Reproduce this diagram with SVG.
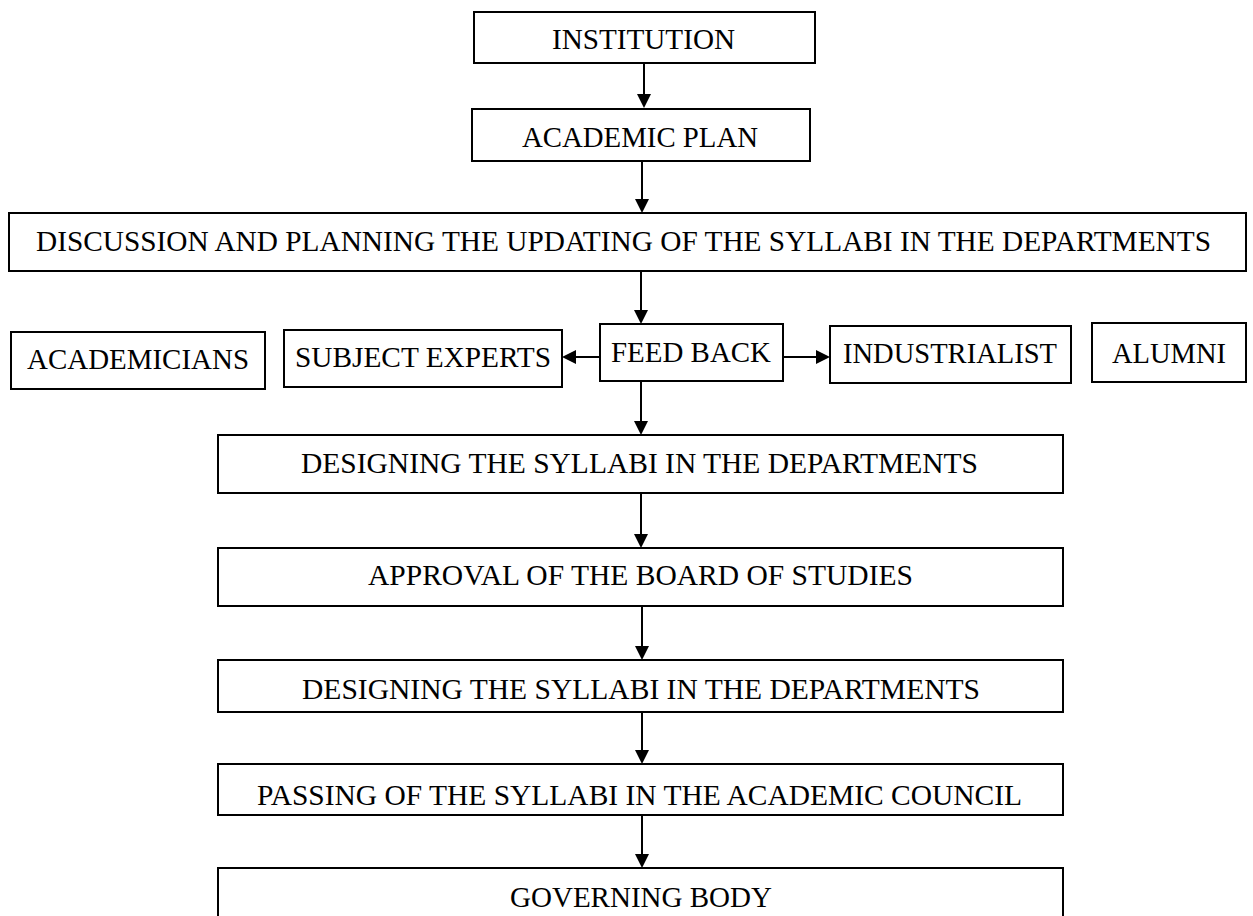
<svg xmlns="http://www.w3.org/2000/svg" width="1253" height="916" viewBox="0 0 1253 916">
<style>
.box{fill:#fff;stroke:#000;stroke-width:2}
.t{font-family:"Liberation Serif","Times New Roman",serif;font-size:29px;fill:#000}
.c{stroke:#000;stroke-width:2;fill:none;marker-end:url(#ah)}
</style>
<defs>
<marker id="ah" markerUnits="userSpaceOnUse" markerWidth="16" markerHeight="16" refX="10" refY="7" orient="auto">
<path d="M0,0 L14,7 L0,14 z" fill="#000"/>
</marker>
</defs>
<rect width="1253" height="916" fill="#fff"/>
<g id="n-institution"><rect class="box" x="474" y="12" width="341" height="51"/><text class="t" x="552" y="49" textLength="183" lengthAdjust="spacingAndGlyphs">INSTITUTION</text></g>
<g id="n-academic-plan"><rect class="box" x="472" y="109" width="338" height="52"/><text class="t" x="522" y="147" textLength="236" lengthAdjust="spacingAndGlyphs">ACADEMIC PLAN</text></g>
<g id="n-discussion"><rect class="box" x="9" y="213" width="1237" height="58"/><text class="t" x="36" y="251" textLength="1175" lengthAdjust="spacingAndGlyphs">DISCUSSION AND PLANNING THE UPDATING OF THE SYLLABI IN THE DEPARTMENTS</text></g>
<g id="n-academicians"><rect class="box" x="11" y="332" width="254" height="57"/><text class="t" x="27" y="369" textLength="222" lengthAdjust="spacingAndGlyphs">ACADEMICIANS</text></g>
<g id="n-subject-experts"><rect class="box" x="284" y="330" width="278" height="57"/><text class="t" x="295" y="367" textLength="256" lengthAdjust="spacingAndGlyphs">SUBJECT EXPERTS</text></g>
<g id="n-feedback"><rect class="box" x="600" y="324" width="183" height="57"/><text class="t" x="611" y="362" textLength="160" lengthAdjust="spacingAndGlyphs">FEED BACK</text></g>
<g id="n-industrialist"><rect class="box" x="830" y="326" width="241" height="57"/><text class="t" x="843" y="363" textLength="214" lengthAdjust="spacingAndGlyphs">INDUSTRIALIST</text></g>
<g id="n-alumni"><rect class="box" x="1092" y="323" width="154" height="59"/><text class="t" x="1112" y="363" textLength="114" lengthAdjust="spacingAndGlyphs">ALUMNI</text></g>
<g id="n-designing-1"><rect class="box" x="218" y="435" width="845" height="58"/><text class="t" x="301" y="473" textLength="677" lengthAdjust="spacingAndGlyphs">DESIGNING THE SYLLABI IN THE DEPARTMENTS</text></g>
<g id="n-approval"><rect class="box" x="218" y="548" width="845" height="58"/><text class="t" x="368" y="585" textLength="545" lengthAdjust="spacingAndGlyphs">APPROVAL OF THE BOARD OF STUDIES</text></g>
<g id="n-designing-2"><rect class="box" x="218" y="660" width="845" height="52"/><text class="t" x="302" y="699" textLength="678" lengthAdjust="spacingAndGlyphs">DESIGNING THE SYLLABI IN THE DEPARTMENTS</text></g>
<g id="n-passing"><rect class="box" x="218" y="764" width="845" height="51"/><text class="t" x="257" y="805" textLength="765" lengthAdjust="spacingAndGlyphs">PASSING OF THE SYLLABI IN THE ACADEMIC COUNCIL</text></g>
<g id="n-governing"><rect class="box" x="218" y="868" width="845" height="60"/><text class="t" x="510" y="907" textLength="262" lengthAdjust="spacingAndGlyphs">GOVERNING BODY</text></g>
<g id="connectors">
<line class="c" x1="644" y1="63" x2="644" y2="104"/>
<line class="c" x1="642" y1="161" x2="642" y2="209"/>
<line class="c" x1="641" y1="271" x2="641" y2="320"/>
<line class="c" x1="641" y1="381" x2="641" y2="431"/>
<line class="c" x1="641" y1="493" x2="641" y2="544"/>
<line class="c" x1="642" y1="606" x2="642" y2="656"/>
<line class="c" x1="642" y1="712" x2="642" y2="760"/>
<line class="c" x1="642" y1="815" x2="642" y2="864"/>
<line class="c" x1="600" y1="357" x2="566" y2="357"/>
<line class="c" x1="783" y1="357" x2="826" y2="357"/>
</g>
</svg>
